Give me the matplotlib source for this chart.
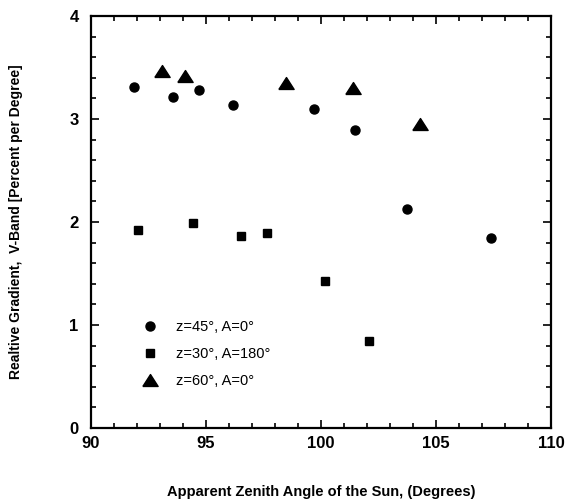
import matplotlib
matplotlib.use("Agg")
import matplotlib.pyplot as plt
from matplotlib.ticker import MultipleLocator

# z=45, A=0 (circles)
circ_x = [91.88, 93.58, 94.68, 96.19, 99.70, 101.49, 103.74, 107.38]
circ_y = [3.31, 3.21, 3.28, 3.14, 3.10, 2.89, 2.13, 1.84]

# z=30, A=180 (squares)
sq_x = [92.03, 94.43, 96.54, 97.65, 100.16, 102.10]
sq_y = [1.92, 1.99, 1.86, 1.89, 1.43, 0.84]

# z=60, A=0 (triangles)
tri_x = [93.07, 94.07, 98.48, 101.40, 104.30]
tri_y = [3.47, 3.42, 3.35, 3.30, 2.95]

labels = ["z=45°, A=0°", "z=30°, A=180°", "z=60°, A=0°"]

plt.rcParams["font.family"] = ["Liberation Sans", "DejaVu Sans"]

fig = plt.figure(figsize=(5.71, 4.99), dpi=100)
ax = fig.add_axes([0.1594, 0.1423, 0.8056, 0.8257])

tri_marker = [(-1, -0.78), (1, -0.78), (0, 0.78), (-1, -0.78)]

ax.plot(circ_x, circ_y, "o", color="black", ms=6.5, ls="none", label=labels[0])
ax.plot(sq_x, sq_y, "s", color="black", ms=5.8, ls="none", label=labels[1])
ax.plot(tri_x, tri_y, marker=tri_marker, color="black", ms=11, ls="none", label=labels[2])

ax.set_xlim(90, 110)
ax.set_ylim(0, 4)
ax.xaxis.set_major_locator(MultipleLocator(5))
ax.xaxis.set_minor_locator(MultipleLocator(1))
ax.yaxis.set_major_locator(MultipleLocator(1))
ax.yaxis.set_minor_locator(MultipleLocator(0.2))

ax.tick_params(which="both", direction="in", top=True, right=True, width=1.2)
ax.tick_params(which="major", length=6, labelsize=12)
ax.tick_params(which="minor", length=3.5)
ax.tick_params(axis="x", which="major", pad=6)
ax.tick_params(axis="y", which="major", pad=9)
for lab in ax.get_xticklabels() + ax.get_yticklabels():
    lab.set_fontweight("bold")
for sp in ax.spines.values():
    sp.set_linewidth(1.6)

ax.set_xlabel("Apparent Zenith Angle of the Sun, (Degrees)", fontsize=10.5,
              fontweight="semibold", labelpad=24)
ax.set_ylabel("Realtive Gradient,  V-Band [Percent per Degree]", fontsize=10,
              fontweight="semibold", labelpad=33)

ax.legend(loc="lower left", bbox_to_anchor=(0.084, 0.083), frameon=False,
          fontsize=10.5, handletextpad=0.8, labelspacing=0.9, borderaxespad=0)

fig.savefig("out.png", dpi=100)
